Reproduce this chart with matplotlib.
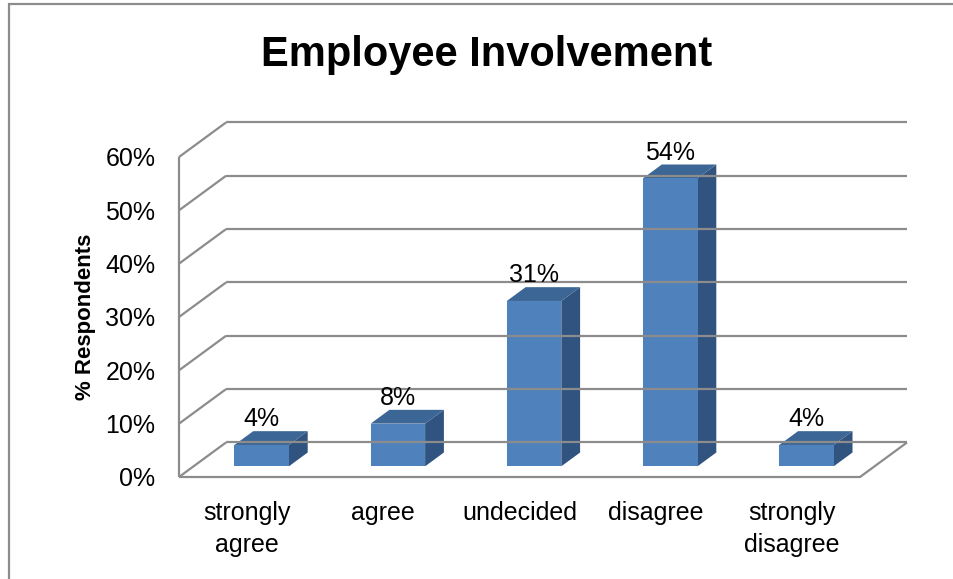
import matplotlib
matplotlib.use("Agg")
import matplotlib.pyplot as plt
from matplotlib.patches import Polygon, Rectangle
from matplotlib.ticker import FuncFormatter

categories = ["strongly\nagree", "agree", "undecided", "disagree", "strongly\ndisagree"]
values = [4, 8, 31, 54, 4]
yticks = [0, 10, 20, 30, 40, 50, 60]

plt.rcParams["font.family"] = ["Liberation Sans", "DejaVu Sans"]

# oblique depth of the 3d box, in data units (x: categories, y: percent)
OX, OY = 0.345, 6.47
D0, D1 = 0.31, 0.71   # bar front / back depth
BW = 0.40
X0, X1 = -0.5, len(categories) - 0.5
YMAX = 60


def P(x, y, d):
    return (x + d * OX, y + d * OY)


W, H = 954, 579
fig = plt.figure(figsize=(W / 100, H / 100), dpi=100)
fig.patches.append(Rectangle((9 / W, -0.1), 1.2, (H - 4) / H + 0.1, transform=fig.transFigure,
                             fill=False, edgecolor="#8c8c8c", linewidth=1.6))
ax = fig.add_axes([179 / W, (H - 477) / H, 681 / W, 320 / H])
ax.set_xlim(X0, X1)
ax.set_ylim(0, YMAX)
for s in ax.spines.values():
    s.set_visible(False)
ax.patch.set_visible(False)

grid = dict(color="#8c8c8c", linewidth=1.6, clip_on=False, solid_capstyle="butt")
# back wall gridlines and left wall
for v in yticks:
    ax.plot(*zip(P(X0, v, 1), P(X1, v, 1)), **grid)
    ax.plot(*zip(P(X0, v, 0), P(X0, v, 1)), **grid)
ax.plot(*zip(P(X0, 0, 0), P(X0, YMAX, 0)), **grid)
# floor
ax.plot(*zip(P(X0, 0, 0), P(X1, 0, 0), P(X1, 0, 1)), **grid)

front_c, top_c, side_c = "#4F81BD", "#3C6695", "#31537F"
for i, v in enumerate(values):
    xl, xr = i - BW / 2, i + BW / 2
    front = [P(xl, 0, D0), P(xr, 0, D0), P(xr, v, D0), P(xl, v, D0)]
    side = [P(xr, 0, D0), P(xr, 0, D1), P(xr, v, D1), P(xr, v, D0)]
    top = [P(xl, v, D0), P(xr, v, D0), P(xr, v, D1), P(xl, v, D1)]
    for pts, c in ((side, side_c), (top, top_c), (front, front_c)):
        ax.add_patch(Polygon(pts, closed=True, facecolor=c, edgecolor="none", clip_on=False))
    lx, ly = P(i, v, D1)
    ax.text(i + D0 * OX, ly, f"{v}%", ha="center", va="bottom", fontsize=18, clip_on=False)

ax.set_yticks(yticks)
ax.yaxis.set_major_formatter(FuncFormatter(lambda v, _: f"{v:.0f}%"))
ax.set_xticks(range(len(categories)))
ax.set_xticklabels(categories, linespacing=1.45)
ax.tick_params(axis="both", length=0, labelsize=18)
ax.tick_params(axis="y", pad=17)
ax.tick_params(axis="x", pad=17)
ax.set_ylabel("% Respondents", fontsize=16, fontweight="bold", va="center")
ax.yaxis.set_label_coords((85 - 179) / 681, 0.5)

fig.text(487 / W, 1 - 55 / H, "Employee Involvement", ha="center", va="center",
         fontsize=30, fontweight="bold")

fig.savefig("out.png", dpi=100)
